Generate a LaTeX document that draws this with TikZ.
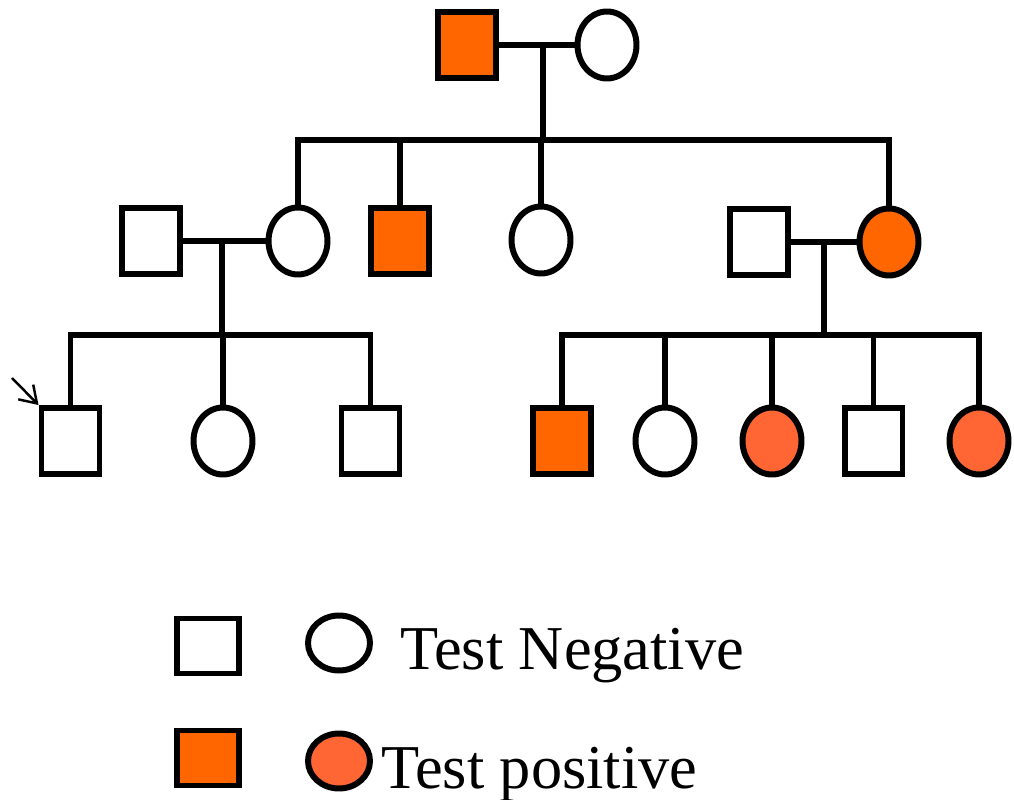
\documentclass[tikz,border=0pt]{standalone}
\usepackage{fontspec}
\setmainfont{Liberation Serif}
\usepackage{xcolor}
\usepackage{tikz}
\usetikzlibrary{positioning,arrows.meta,shapes.geometric}

\definecolor{posdark}{HTML}{FF6600}
\definecolor{poslight}{HTML}{FF6633}

\begin{document}
\begin{tikzpicture}[
  x=0.02cm, y=-0.02cm,
  male/.style={draw, line width=3.4pt, fill=white, rectangle, inner sep=0pt, minimum width=1.16cm, minimum height=1.32cm},
  female/.style={draw, line width=3.4pt, fill=white, ellipse, inner sep=0pt, minimum width=1.18cm, minimum height=1.34cm},
  affected/.style={fill=posdark},
  affectedl/.style={fill=poslight},
  line/.style={line width=3.4pt},
  legtext/.style={anchor=base west, inner sep=0pt, font=\fontsize{35.5}{42}\selectfont}
]
\useasboundingbox (0,0) rectangle (1014,800);

% generation I
\node[male, affected] (gfather) at (467,45) {};
\node[female] (gmother) at (607,45) {};
\coordinate (union1) at (543,45);
\coordinate (sib1) at (543,140);

% generation II
\node[male] (inlaw1) at (151,241) {};
\node[female] (daughter1) at (298,241) {};
\node[male, affected] (son1) at (400,241) {};
\node[female] (daughter2) at (541,240) {};
\node[male] (inlaw2) at (759,242) {};
\node[female, affected] (daughter3) at (889,242) {};
\coordinate (union2) at (222,241);
\coordinate (sib2) at (222,335);
\coordinate (union3) at (824,242);
\coordinate (sib3) at (824,335);

% generation III
\node[male] (proband) at (70.5,441) {};
\node[female] (girl1) at (223,441) {};
\node[male] (boy1) at (370.5,441) {};
\node[male, affected] (boy2) at (562,441) {};
\node[female] (girl2) at (665,441) {};
\node[female, affectedl] (girl3) at (772,441) {};
\node[male] (boy3) at (873.5,441) {};
\node[female, affectedl] (girl4) at (979,441) {};
\coordinate (pointer) at (12,378);

% legend
\node[male, minimum width=1.24cm, minimum height=1.1cm] (negm) at (208,646) {};
\node[female, minimum width=1.24cm, minimum height=1.1cm] (negf) at (339,643) {};
\node[legtext] (negtxt) at (400,669) {Test Negative};
\node[male, affected, minimum width=1.24cm, minimum height=1.1cm] (posm) at (208,758) {};
\node[female, affectedl, minimum width=1.24cm, minimum height=1.1cm] (posf) at (339,761) {};
\node[legtext] (postxt) at (381,788) {Test positive};

\draw[line] (gfather) -- (gmother);
\draw[line] (union1) -- (sib1);
\draw[line] (daughter1.north) |- (sib1) -| (daughter3.north);
\draw[line] (son1.north) -- (son1.north |- sib1);
\draw[line] (daughter2.north) -- (daughter2.north |- sib1);

\draw[line] (inlaw1) -- (daughter1);
\draw[line] (union2) -- (sib2);
\draw[line] (proband.north) |- (sib2) -| (boy1.north);
\draw[line] (girl1.north) -- (girl1.north |- sib2);

\draw[line] (inlaw2) -- (daughter3);
\draw[line] (union3) -- (sib3);
\draw[line] (boy2.north) |- (sib3) -| (girl4.north);
\draw[line] (girl2.north) -- (girl2.north |- sib3);
\draw[line] (girl3.north) -- (girl3.north |- sib3);
\draw[line] (boy3.north) -- (boy3.north |- sib3);

\draw[line width=1.4pt, -{Straight Barb[length=0.32cm, width=0.42cm]}] (pointer) -- (proband.north west);
\end{tikzpicture}
\end{document}
